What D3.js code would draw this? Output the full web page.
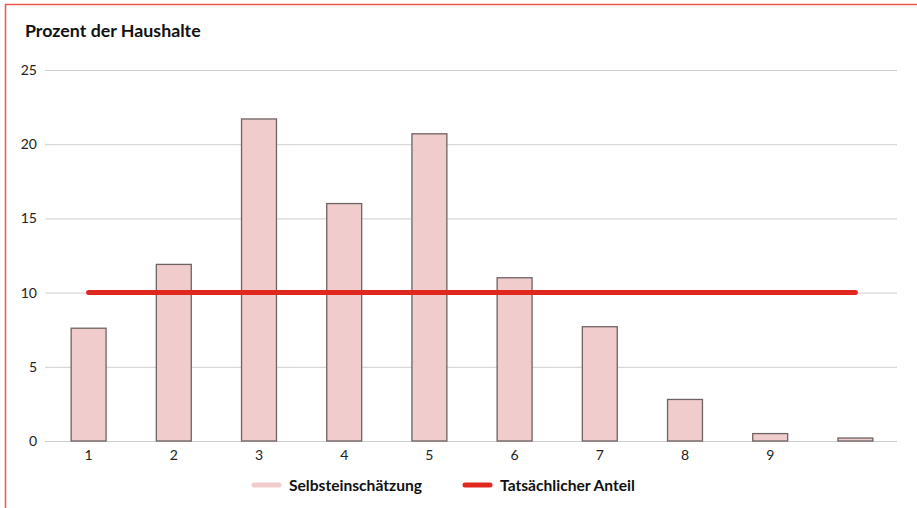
<!DOCTYPE html>
<html><head><meta charset="utf-8">
<script src="https://cdn.jsdelivr.net/npm/d3@7"></script>
<style>
body{margin:0;background:#fff;}
svg{display:block;font-family:"Lato","Open Sans",sans-serif;}
</style></head>
<body><svg id="c" width="917" height="508"></svg>
<script>
const categories = ["1","2","3","4","5","6","7","8","9","10"];
const categoryLabels = ["1","2","3","4","5","6","7","8","9",""];
const selbst = [7.6, 11.9, 21.7, 16.0, 20.7, 11.0, 7.7, 2.8, 0.5, 0.2];
const tatsaechlich = [10,10,10,10,10,10,10,10,10,10];
const yTicks = [0,5,10,15,20,25];
const seriesNames = ["Selbsteinschätzung","Tatsächlicher Anteil"];

(function(){
const svg = d3.select("#c");
svg.append("rect").attr("x",5.5).attr("y",4.5).attr("width",940).attr("height",540)
  .attr("fill","none").attr("stroke","#e8584f").attr("stroke-width",1.5);

const mLeft=45, mRight=897, mTop=70, mBottom=441;
const x = d3.scaleBand().domain(categories).range([mLeft+1,mRight+1]).padding(0);
const y = d3.scaleLinear().domain([0,25]).range([mBottom,mTop]);

svg.append("text").attr("x",25).attr("y",37).text("Prozent der Haushalte")
  .attr("font-size",17.8).attr("font-weight",700).attr("fill","#111");

const yAxis = d3.axisLeft(y).tickValues(yTicks).tickSize(-(mRight-mLeft)).tickPadding(8);
const gy = svg.append("g").attr("transform",`translate(${mLeft},0)`).call(yAxis);
gy.select(".domain").remove();
gy.selectAll(".tick line").attr("stroke","#cfcfcf").attr("stroke-width",1);
gy.selectAll(".tick text").attr("font-size",14).attr("fill","#222").attr("font-family","Lato, sans-serif");

const xAxis = d3.axisBottom(x).tickSize(0).tickPadding(9).tickFormat((d,i)=>categoryLabels[i]);
const gx = svg.append("g").attr("transform",`translate(0,${mBottom})`).call(xAxis);
gx.select(".domain").remove();
gx.selectAll(".tick text").attr("font-size",14).attr("fill","#222").attr("font-family","Lato, sans-serif");

const bw = x.bandwidth()*0.41;
svg.append("g").selectAll("rect").data(selbst).join("rect")
  .attr("x",(d,i)=>x(categories[i])+x.bandwidth()/2-bw/2)
  .attr("y",d=>y(d))
  .attr("width",bw)
  .attr("height",d=>mBottom-y(d))
  .attr("fill","#f0cccc").attr("stroke","#6e6262").attr("stroke-width",1.3);

const line = d3.line().x((d,i)=>x(categories[i])+x.bandwidth()/2).y(d=>y(d));
svg.append("path").datum(tatsaechlich).attr("d",line)
  .attr("fill","none").attr("stroke","#e0281f").attr("stroke-width",5).attr("stroke-linecap","round");

const leg = svg.append("g");
const items = [{x:254,color:"#f2cccc"},{x:465,color:"#e0281f"}];
items.forEach((it,i)=>{
  leg.append("line").attr("x1",it.x).attr("x2",it.x+25).attr("y1",485).attr("y2",485)
    .attr("stroke",it.color).attr("stroke-width",5).attr("stroke-linecap","round");
  leg.append("text").attr("x",it.x+35).attr("y",490.5).text(seriesNames[i])
    .attr("font-size",15.6).attr("font-weight",700).attr("fill","#111");
});
})();
</script></body></html>
